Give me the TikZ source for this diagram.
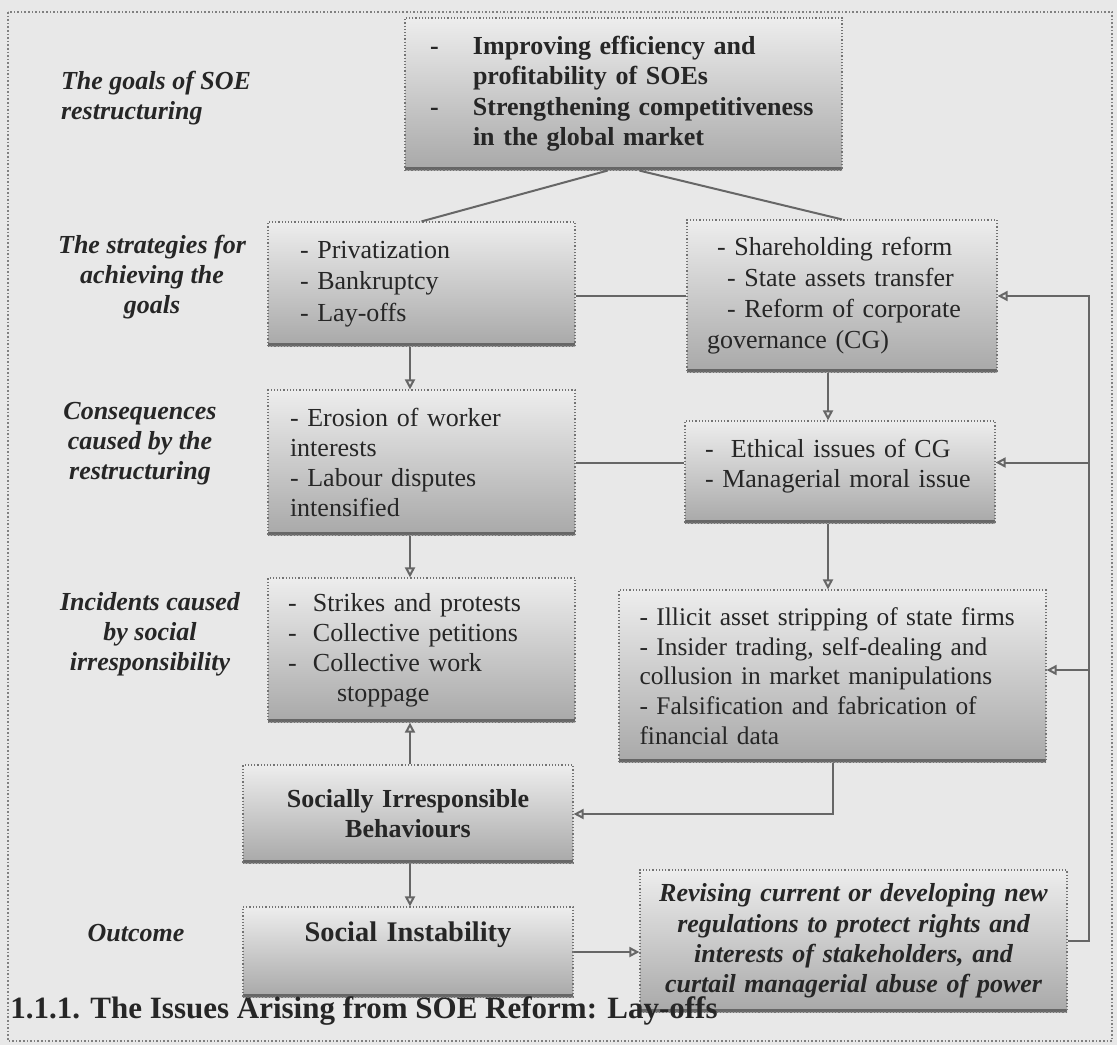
\documentclass[tikz,border=0pt]{standalone}
\usepackage{fontspec}
\setmainfont{Liberation Serif}
\usepackage{xcolor}
\usetikzlibrary{positioning,arrows.meta,calc}

\tikzset{
  sbox/.style={draw=black!55, densely dotted, line width=0.6pt, top color=black!7, bottom color=black!34,
    inner xsep=10pt, align=left, text=black!85, font=\fontsize{13}{15}\selectfont,
    path picture={\fill[black!60] (path picture bounding box.south west) rectangle ([yshift=1.6pt]path picture bounding box.south east);}},
  stage/.style={align=center, text=black!85, font=\fontsize{13}{15}\selectfont\bfseries\itshape},
  link/.style={draw=black!60, line width=1pt},
  frame/.style={draw=black!50, densely dotted, line width=0.8pt},
  >={Triangle[open,length=5pt,width=5pt]}
}

\begin{document}
\begin{tikzpicture}[x=0.5pt,y=-0.5pt]
\fill [black!9] (0,0) rectangle (1117,1045);
\useasboundingbox (0,0) rectangle (1117,1045);
\draw [frame] (8,12) rectangle (1112,1041);

\node [stage, anchor=west, align=left] (lgoal) at (54,98) {The goals of SOE\\restructuring};
\node [stage] (lstrat) at (152,277) {The strategies for\\achieving the\\goals};
\node [stage] (lcons) at (140,444) {Consequences\\caused by the\\restructuring};
\node [stage] (linc) at (150,634) {Incidents caused\\by social\\irresponsibility};
\node [stage] (lout) at (136,933) {Outcome};

\node [sbox, minimum width=218.5pt, minimum height=76pt, text width=193.5pt, inner xsep=12.5pt,
  font=\fontsize{13}{15.2}\selectfont\bfseries] (goal) at (623.5,94) {\begin{tabular}{@{}p{21.5pt}@{}l@{}}
-&Improving efficiency and\\
&profitability of SOEs\\
-&Strengthening competitiveness\\
&in the global market
\end{tabular}};
\node [sbox, minimum width=153.5pt, minimum height=62pt, text width=121.5pt, inner xsep=16pt,
  font=\fontsize{13}{15.8}\selectfont] (l1) at (421.5,284) {- Privatization\\- Bankruptcy\\- Lay-offs};
\node [sbox, minimum width=155pt, minimum height=76pt, text width=135pt, font=\fontsize{13}{15.5}\selectfont] (r1) at (842,296)
  {\hspace*{5pt}- Shareholding reform\\\hspace*{10pt}- State assets transfer\\\hspace*{10pt}- Reform of corporate\\governance (CG)};
\node [sbox, minimum width=153.5pt, minimum height=72.5pt, text width=131.5pt, inner xsep=11pt] (l2) at (421.5,462.5)
  {- Erosion of worker\\interests\\- Labour disputes\\intensified};
\node [sbox, minimum width=155pt, minimum height=51pt, text width=135pt, text depth=24pt] (r2) at (840,472)
  {-\ \ Ethical issues of CG\\- Managerial moral issue};
\node [sbox, minimum width=153.5pt, minimum height=72pt, text width=133.5pt] (l3) at (421.5,650)
  {\begin{tabular}{@{}p{12.5pt}@{}l@{}}
-&Strikes and protests\\
-&Collective petitions\\
-&Collective work\\
&\hspace*{12pt}stoppage
\end{tabular}};
\node [sbox, minimum width=213.5pt, minimum height=86pt, text width=193pt, inner xsep=10.25pt,
  font=\fontsize{12.7}{14.8}\selectfont] (r3) at (832.5,676)
  {- Illicit asset stripping of state firms\\- Insider trading, self-dealing and\\collusion in market manipulations\\- Falsification and fabrication of\\financial data};
\node [sbox, minimum width=165pt, minimum height=49pt, text width=145pt, align=center,
  font=\fontsize{13}{15}\selectfont\bfseries] (sib) at (408,814) {Socially Irresponsible\\Behaviours};
\node [sbox, minimum width=165pt, minimum height=45pt, text width=145pt, align=center,
  text height=10pt, text depth=21pt, font=\fontsize{14.2}{17}\selectfont\bfseries] (si) at (408,952) {Social Instability};
\node [sbox, minimum width=213.5pt, minimum height=71pt, text width=200pt, inner xsep=6.75pt, align=center,
  font=\fontsize{13}{15.2}\selectfont\bfseries\itshape] (rev) at (853.5,941)
  {Revising current or developing new\\regulations to protect rights and\\interests of stakeholders, and\\curtail managerial abuse of power};

\coordinate (lx) at (410,0);
\coordinate (rx) at (828,0);
\coordinate (fb) at (1089,0);

\draw [link] ([xshift=-8pt]goal.south) -- (l1.north);
\draw [link] ([xshift=8pt]goal.south) -- (r1.north);
\draw [link] (r1.west -| l1.east) -- (r1.west);
\draw [link] (l2.east) -- (l2.east -| r2.west);
\draw [link,->] (l1.south -| lx) -- (l2.north -| lx);
\draw [link,->] (l2.south -| lx) -- (l3.north -| lx);
\draw [link,->] (sib.north -| lx) -- (l3.south -| lx);
\draw [link,->] (sib.south -| lx) -- (si.north -| lx);
\draw [link,->] (r1.south -| rx) -- (r2.north -| rx);
\draw [link,->] (r2.south -| rx) -- (r3.north -| rx);
\draw [link,->] (r3.south) |- (sib.east);
\draw [link,->] (si.east) -- (si.east -| rev.west);
\draw [link,->] (rev.east) -| (fb |- r1.east) -- (r1.east);
\draw [link,->] (fb |- l2.east) -- (l2.east -| r2.east);
\draw [link,->] ([yshift=3pt]fb |- r3.east) -- ([yshift=3pt]r3.east);

\node [anchor=base west, inner sep=0pt, text=black!85, font=\fontsize{15.5}{18}\selectfont\bfseries] (cap) at (10,1018)
  {1.1.1. The Issues Arising from SOE Reform: Lay-offs};
\end{tikzpicture}
\end{document}
